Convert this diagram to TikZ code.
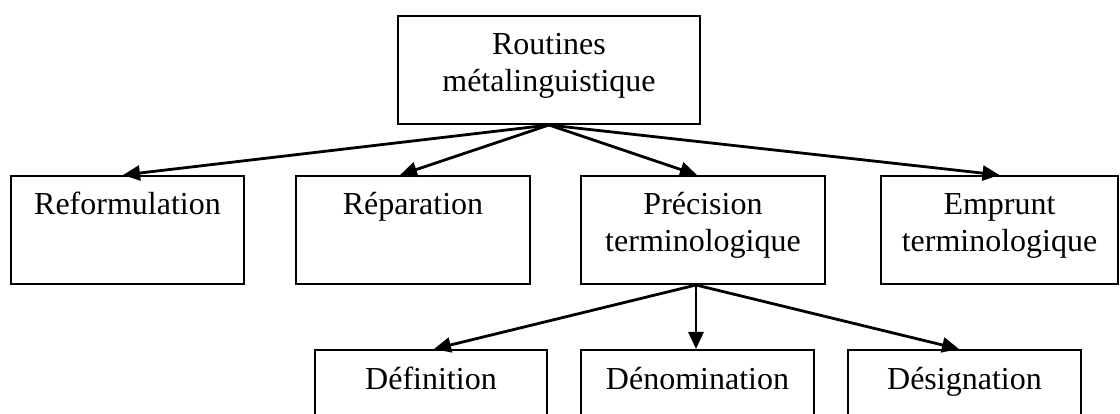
\documentclass[tikz,border=0pt]{standalone}
\usepackage{fontspec}
\setmainfont{Liberation Serif}
\usetikzlibrary{arrows.meta}
\begin{document}
\begin{tikzpicture}[x=1pt,y=-1pt,
  box/.style={draw=black, line width=2pt, minimum height=108pt, inner sep=0pt, anchor=north},
  txt/.style={font=\fontsize{32}{37}\selectfont, inner sep=0pt, anchor=base, align=center},
  conn/.style={line width=2.8pt, -{Triangle[length=17pt,width=15pt]}}]
\useasboundingbox (0,0) rectangle (1120,414);
\clip (0,0) rectangle (1120,414);
% top
\node[box, minimum width=302pt] (top) at (549,15) {};
\node[txt] (topt) at (549,92) {Routines\\m\'etalinguistique};
% row 2
\node[box, minimum width=233pt] (ref) at (127.5,175) {};
\node[box, minimum width=234pt] (rep) at (413,175) {};
\node[box, minimum width=244pt] (pre) at (703,175) {};
\node[box, minimum width=237pt] (emp) at (999.5,175) {};
\node[txt] (reft) at (127.5,215) {Reformulation};
\node[txt] (rept) at (413,215) {R\'eparation};
\node[txt] (pret) at (703,252) {Pr\'ecision\\terminologique};
\node[txt] (empt) at (999.5,252) {Emprunt\\terminologique};
% row 3
\node[box, minimum width=232pt] (def) at (431,349) {};
\node[box, minimum width=233pt] (den) at (697.5,349) {};
\node[box, minimum width=233pt] (des) at (964.5,349) {};
\node[txt] (deft) at (431,389) {D\'efinition};
\node[txt] (dent) at (697.5,389) {D\'enomination};
\node[txt] (dest) at (964.5,389) {D\'esignation};
% connectors
\draw[conn] (top.south) -- ([xshift=-4.5pt]ref.north);
\draw[conn] (top.south) -- ([xshift=-13pt]rep.north);
\draw[conn] (top.south) -- ([xshift=-6pt]pre.north);
\draw[conn] (top.south) -- (emp.north);
\draw[conn] ([xshift=-7pt]pre.south) -- ([xshift=3pt]def.north);
\draw[conn] ([xshift=-7pt]pre.south) -- ([xshift=-1.5pt]den.north);
\draw[conn] ([xshift=-7pt]pre.south) -- ([xshift=-5.5pt]des.north);
\end{tikzpicture}
\end{document}
